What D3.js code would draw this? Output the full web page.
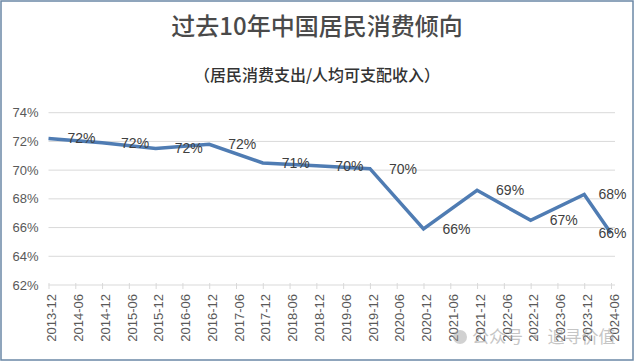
<!DOCTYPE html>
<html>
<head>
<meta charset="utf-8">
<script src="https://cdn.jsdelivr.net/npm/d3@7/dist/d3.min.js"></script>
<style>
  html, body { margin: 0; padding: 0; background: #fff; }
  svg { display: block; }
</style>
</head>
<body>
<svg id="chart" width="635" height="362"></svg>
<script>
// ---- data ----
const titleText = "过去10年中国居民消费倾向";
const subtitleText = "（居民消费支出/人均可支配收入）";
const categories = ["2013-12","2014-06","2014-12","2015-06","2015-12","2016-06","2016-12","2017-06","2017-12","2018-06","2018-12","2019-06","2019-12","2020-06","2020-12","2021-06","2021-12","2022-06","2022-12","2023-06","2023-12","2024-06"];
const propensity = [72.2,null,71.9,null,71.5,null,71.8,null,70.5,null,70.3,null,70.1,null,65.9,null,68.6,null,66.5,null,68.3,65.6];
const yTicks = [62,64,66,68,70,72,74];
const watermark = "公众号 · 追寻价值";

// ---- layout ----
const W = 635, H = 362;
const plotL = 48.5, plotR = 611, plotT = 112.7, plotB = 285;
const svg = d3.select("#chart");
const cjk = "'Noto Sans CJK SC', 'Noto Sans', sans-serif";
const latin = "'Liberation Sans', Arial, sans-serif";

svg.append("rect").attr("x", 1).attr("y", 1).attr("width", W - 3).attr("height", H - 3)
  .attr("fill", "#fff").attr("stroke", "#6b88a6").attr("stroke-width", 1.5);

svg.append("text").attr("x", 317).attr("y", 27).attr("dy", "0.35em")
  .attr("text-anchor", "middle").attr("font-family", cjk).attr("font-size", 24)
  .attr("font-weight", 500).attr("fill", "#4a4a4a").text(titleText);

svg.append("text").attr("x", 317).attr("y", 75).attr("dy", "0.35em")
  .attr("text-anchor", "middle").attr("font-family", cjk).attr("font-size", 16)
  .attr("font-weight", 500).attr("fill", "#333333").text(subtitleText);

const x = d3.scalePoint().domain(categories).range([plotL, plotR]);
const y = d3.scaleLinear().domain([62, 74]).range([plotB, plotT]);

// gridlines
svg.append("g").selectAll("line").data(yTicks.filter(t => t !== 62)).join("line")
  .attr("x1", plotL).attr("x2", plotR + 4)
  .attr("y1", d => y(d)).attr("y2", d => y(d))
  .attr("stroke", "#d9d9d9").attr("stroke-width", 1);

// y axis labels
svg.append("g").selectAll("text").data(yTicks).join("text")
  .attr("x", 38.5).attr("y", d => y(d)).attr("dy", "0.35em")
  .attr("text-anchor", "end").attr("font-family", latin).attr("font-size", 13)
  .attr("fill", "#595959").text(d => d + "%");

// x axis
const xAxis = svg.append("g").attr("transform", `translate(0,${plotB})`)
  .call(d3.axisBottom(x).tickSize(4).tickSizeOuter(0));
xAxis.select(".domain").attr("stroke", "#d9d9d9").attr("d", `M${plotL},0H${plotR + 4}`);
xAxis.selectAll(".tick line").attr("stroke", "#d9d9d9").attr("y1", -2);
xAxis.selectAll(".tick text")
  .attr("transform", "rotate(-90)")
  .attr("text-anchor", "end")
  .attr("x", -9).attr("y", 0).attr("dy", "0.55em")
  .attr("font-family", latin).attr("font-size", 13).attr("fill", "#595959");

// line
const pts = categories.map((c, i) => ({ c, v: propensity[i] })).filter(d => d.v != null);
svg.append("path").datum(pts)
  .attr("fill", "none").attr("stroke", "#4f7cb3").attr("stroke-width", 3.5)
  .attr("stroke-linejoin", "miter")
  .attr("d", d3.line().x(d => x(d.c)).y(d => y(d.v)));

// labels
svg.append("g").selectAll("text").data(pts).join("text")
  .attr("x", d => Math.min(x(d.c) + 19, 598.5)).attr("y", d => y(d.v)).attr("dy", "0.35em")
  .attr("font-family", latin).attr("font-size", 14).attr("fill", "#404040")
  .text(d => Math.round(d.v) + "%");

// watermark
svg.append("circle").attr("cx", 460).attr("cy", 337).attr("r", 7).attr("fill", "#9a9a9a").attr("opacity", 0.45);
svg.append("text").attr("x", 472).attr("y", 337).attr("dy", "0.35em")
  .attr("font-family", cjk).attr("font-size", 17).attr("fill", "#a0a0a0").attr("opacity", 0.6)
  .attr("xml:space", "preserve").text(watermark);
</script>
</body>
</html>
